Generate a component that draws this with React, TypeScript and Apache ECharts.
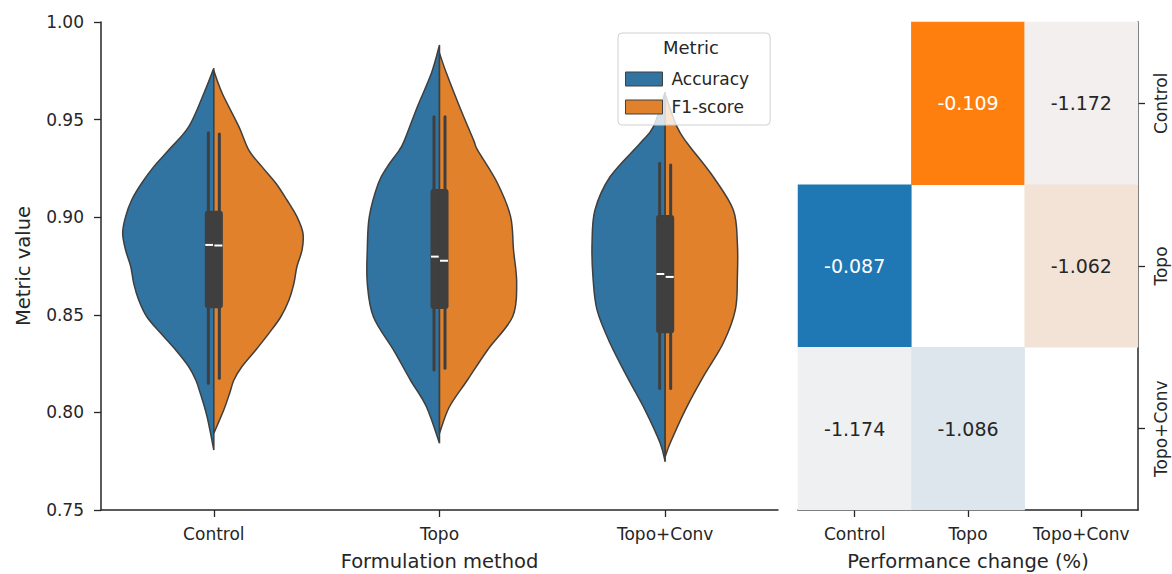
import React, { useEffect, useRef } from "react";
import * as echarts from "echarts";

// ---------------- data ----------------
const categories = ["Control", "Topo", "Topo+Conv"];
const metricNames = ["Accuracy", "F1-score"];
const yTicks = [0.75, 0.8, 0.85, 0.9, 0.95, 1.0];

// violin half profiles: [metric value, half-width as a fraction of the category band]
const controlAccuracyDensity = [
  [0.9763, 0], [0.9635, 0.044], [0.9464, 0.111], [0.9344, 0.2], [0.9259, 0.266],
  [0.9174, 0.32], [0.9088, 0.364], [0.9003, 0.391], [0.8918, 0.404], [0.8832, 0.391],
  [0.8746, 0.368], [0.8661, 0.355], [0.8576, 0.333], [0.849, 0.297], [0.8405, 0.235],
  [0.832, 0.169], [0.8234, 0.111], [0.8166, 0.08], [0.8098, 0.06], [0.7978, 0.03], [0.7807, 0],
];
const controlF1Density = [
  [0.975, 0], [0.9635, 0.037], [0.9464, 0.111], [0.9344, 0.155], [0.9259, 0.213],
  [0.9174, 0.275], [0.9088, 0.324], [0.9003, 0.368], [0.8918, 0.395], [0.8832, 0.391],
  [0.8746, 0.368], [0.8661, 0.355], [0.8576, 0.333], [0.849, 0.297], [0.8405, 0.244],
  [0.832, 0.186], [0.8234, 0.124], [0.8166, 0.089], [0.8098, 0.07], [0.8012, 0.044], [0.7893, 0],
];
const topoAccuracyDensity = [
  [0.9882, 0], [0.9737, 0.036], [0.9566, 0.098], [0.9395, 0.155], [0.9344, 0.178],
  [0.9259, 0.231], [0.9174, 0.271], [0.9003, 0.311], [0.8832, 0.32], [0.8661, 0.32],
  [0.849, 0.293], [0.832, 0.204], [0.8166, 0.129], [0.8029, 0.058], [0.7842, 0],
];
const topoF1Density = [
  [0.984, 0], [0.9737, 0.031], [0.9566, 0.089], [0.9395, 0.151], [0.9344, 0.169],
  [0.9174, 0.257], [0.9003, 0.315], [0.8832, 0.328], [0.8661, 0.342], [0.849, 0.324],
  [0.832, 0.213], [0.8166, 0.124], [0.8029, 0.044], [0.7893, 0],
];
const topoConvAccuracyDensity = [
  [0.9641, 0], [0.9464, 0.052], [0.9379, 0.111], [0.9207, 0.244], [0.9037, 0.311],
  [0.8866, 0.324], [0.8695, 0.32], [0.8525, 0.302], [0.8354, 0.244], [0.8183, 0.169],
  [0.8012, 0.089], [0.7842, 0.022], [0.7747, 0],
];
const topoConvF1Density = [
  [0.963, 0], [0.9464, 0.052], [0.9379, 0.098], [0.9207, 0.213], [0.9037, 0.302],
  [0.8866, 0.32], [0.8695, 0.32], [0.8525, 0.311], [0.8354, 0.257], [0.8183, 0.169],
  [0.8012, 0.089], [0.7842, 0.022], [0.7773, 0],
];

// inner box statistics per category
const accuracyWhiskerLow = [0.8149, 0.8217, 0.8123];
const accuracyQ1 = [0.8533, 0.853, 0.8405];
const accuracyMedian = [0.8858, 0.8798, 0.8709];
const accuracyQ3 = [0.9033, 0.9144, 0.9011];
const accuracyWhiskerHigh = [0.9433, 0.9515, 0.9276];
const f1WhiskerLow = [0.8175, 0.8226, 0.8123];
const f1Q1 = [0.8533, 0.853, 0.8405];
const f1Median = [0.8855, 0.8777, 0.8694];
const f1Q3 = [0.9033, 0.9144, 0.9011];
const f1WhiskerHigh = [0.9426, 0.9515, 0.9267];

// heatmap of performance change (%): [column, row, value]
const heatCategories = ["Control", "Topo", "Topo+Conv"];
const accuracyChange = [
  [0, 1, -0.087],
  [0, 2, -1.174],
  [1, 2, -1.086],
];
const f1Change = [
  [1, 0, -0.109],
  [2, 0, -1.172],
  [2, 1, -1.062],
];

// ---------------- styles ----------------
const FONT = "DejaVu Sans";
const TEXT = "#262626";
const LINE = "#3f3f3f";
const BLUE = "#3274a1";
const ORANGE = "#e1812c";

function makeRender(
  profiles: number[][][],
  side: number,
  low: number[],
  q1: number[],
  med: number[],
  q3: number[],
  high: number[],
  fill: string
) {
  return (params: any, api: any) => {
    const i = params.dataIndex;
    const cx = api.coord([i, 0.9])[0];
    const band = api.size([1, 0])[0];
    const pts = profiles[i].map(([v, w]) => [cx + side * w * band, api.coord([i, v])[1]]);
    const f = (n: number) => n.toFixed(2);
    let d = `M ${f(pts[0][0])} ${f(pts[0][1])}`;
    for (let k = 0; k < pts.length - 1; k++) {
      const p0 = pts[Math.max(k - 1, 0)];
      const p1 = pts[k];
      const p2 = pts[k + 1];
      const p3 = pts[Math.min(k + 2, pts.length - 1)];
      const c1x = p1[0] + (p2[0] - p0[0]) / 6;
      const c1y = p1[1] + (p2[1] - p0[1]) / 6;
      const c2x = p2[0] - (p3[0] - p1[0]) / 6;
      const c2y = p2[1] - (p3[1] - p1[1]) / 6;
      d += ` C ${f(c1x)} ${f(c1y)} ${f(c2x)} ${f(c2y)} ${f(p2[0])} ${f(p2[1])}`;
    }
    d += " Z";
    const y = (v: number) => api.coord([i, v])[1];
    const wx = cx + side * 0.0244 * band;
    const bw = 0.04 * band;
    const boxX = side < 0 ? cx - bw : cx;
    const mx1 = cx + side * 0.5;
    const mx2 = cx + side * (bw - 0.5);
    return {
      type: "group",
      children: [
        {
          type: "path",
          shape: { pathData: d },
          style: { fill, stroke: LINE, lineWidth: 1.5 },
        },
        {
          type: "line",
          shape: { x1: wx, y1: y(high[i]), x2: wx, y2: y(low[i]) },
          style: { stroke: LINE, lineWidth: 3, lineCap: "round" },
        },
        {
          type: "rect",
          shape: {
            x: boxX,
            y: y(q3[i]),
            width: bw,
            height: y(q1[i]) - y(q3[i]),
            r: side < 0 ? [3, 0, 0, 3] : [0, 3, 3, 0],
          },
          style: { fill: LINE },
        },
        {
          type: "line",
          shape: { x1: mx1, y1: y(med[i]), x2: mx2, y2: y(med[i]) },
          style: { stroke: "#ffffff", lineWidth: 2 },
        },
      ],
    };
  };
}

function heatItems(rows: number[][]) {
  return rows.map((r) => ({
    value: r,
    label: { color: r[2] > -0.5 ? "#ffffff" : TEXT },
  }));
}

export default function App() {
  const ref = useRef<HTMLDivElement>(null);
  useEffect(() => {
    if (!ref.current) return;
    const chart = echarts.init(ref.current, null, { renderer: "svg" });
    const accVals = accuracyChange.map((r) => r[2]);
    const f1Vals = f1Change.map((r) => r[2]);
    const axisText = { color: TEXT, fontFamily: FONT, fontSize: 17 };
    const nameText = { color: TEXT, fontFamily: FONT, fontSize: 19.5, lineHeight: 20 };
    const axisLine = { show: true, lineStyle: { color: TEXT, width: 1.5 } };
    const axisTick = { show: true, length: 7, lineStyle: { color: TEXT, width: 1.3 } };
    const option: any = {
      animation: false,
      backgroundColor: "#ffffff",
      grid: [
        { left: 101, right: 394, top: 22, bottom: 64, outerBoundsMode: "none", containLabel: false },
        { left: 798, right: 34, top: 22, bottom: 64, outerBoundsMode: "none", containLabel: false },
      ],
      xAxis: [
        {
          type: "category",
          gridIndex: 0,
          data: categories,
          boundaryGap: true,
          axisLine,
          axisTick: { ...axisTick, alignWithLabel: true, interval: 0 },
          axisLabel: { ...axisText, margin: 15, interval: 0 },
          splitLine: { show: false },
          name: "Formulation method",
          nameLocation: "middle",
          nameGap: 41,
          nameTextStyle: nameText,
        },
        {
          type: "category",
          gridIndex: 1,
          data: heatCategories,
          axisLine,
          axisTick: { ...axisTick, alignWithLabel: true, interval: 0 },
          axisLabel: { ...axisText, margin: 15, interval: 0 },
          splitArea: { show: false },
          name: "Performance change (%)",
          nameLocation: "middle",
          nameGap: 41,
          nameTextStyle: nameText,
        },
      ],
      yAxis: [
        {
          type: "value",
          gridIndex: 0,
          min: yTicks[0],
          max: yTicks[yTicks.length - 1],
          interval: 0.05,
          axisLine,
          axisTick,
          splitLine: { show: false },
          axisLabel: { ...axisText, margin: 17, formatter: (v: number) => v.toFixed(2) },
          name: "Metric value",
          nameLocation: "middle",
          nameGap: 68,
          nameTextStyle: nameText,
        },
        {
          type: "category",
          gridIndex: 1,
          data: heatCategories,
          inverse: true,
          position: "right",
          axisLine,
          axisTick: { ...axisTick, alignWithLabel: true, interval: 0 },
          axisLabel: { ...axisText, margin: 14, rotate: 90, interval: 0 },
          splitArea: { show: false },
        },
      ],
      visualMap: [
        {
          show: false,
          seriesIndex: 2,
          dimension: 2,
          min: Math.min(...accVals),
          max: Math.max(...accVals),
          inRange: { color: ["#eff0f2", "#1f77b4"] },
        },
        {
          show: false,
          seriesIndex: 3,
          dimension: 2,
          min: Math.min(...f1Vals),
          max: Math.max(...f1Vals),
          inRange: { color: ["#f2efee", "#ff7f0e"] },
        },
      ],
      legend: {
        orient: "vertical",
        left: 618,
        top: 33,
        padding: [37, 21, 9, 7],
        itemGap: 10,
        itemWidth: 37,
        itemHeight: 14,
        backgroundColor: "rgba(255,255,255,0.8)",
        borderColor: "#d0d0d0",
        borderWidth: 1,
        borderRadius: 4,
        textStyle: { color: TEXT, fontFamily: FONT, fontSize: 17, lineHeight: 18, padding: [0, 0, 0, 4] },
        data: [
          { name: metricNames[0], icon: "rect", itemStyle: { color: BLUE, borderColor: LINE, borderWidth: 1 } },
          { name: metricNames[1], icon: "rect", itemStyle: { color: ORANGE, borderColor: LINE, borderWidth: 1 } },
        ],
      },
      graphic: [
        {
          type: "text",
          left: 663,
          top: 38,
          z: 100,
          style: { text: "Metric", fill: TEXT, font: `18px '${FONT}'` },
        },
      ],
      series: [
        {
          type: "custom",
          name: metricNames[0],
          xAxisIndex: 0,
          yAxisIndex: 0,
          itemStyle: { color: BLUE, borderColor: LINE },
          data: categories.map((c, i) => [i, accuracyMedian[i]]),
          encode: { x: 0, y: 1 },
          renderItem: makeRender(
            [controlAccuracyDensity, topoAccuracyDensity, topoConvAccuracyDensity],
            -1,
            accuracyWhiskerLow,
            accuracyQ1,
            accuracyMedian,
            accuracyQ3,
            accuracyWhiskerHigh,
            BLUE
          ),
        },
        {
          type: "custom",
          name: metricNames[1],
          xAxisIndex: 0,
          yAxisIndex: 0,
          itemStyle: { color: ORANGE, borderColor: LINE },
          data: categories.map((c, i) => [i, f1Median[i]]),
          encode: { x: 0, y: 1 },
          renderItem: makeRender(
            [controlF1Density, topoF1Density, topoConvF1Density],
            1,
            f1WhiskerLow,
            f1Q1,
            f1Median,
            f1Q3,
            f1WhiskerHigh,
            ORANGE
          ),
        },
        {
          type: "heatmap",
          name: "accuracyChange",
          xAxisIndex: 1,
          yAxisIndex: 1,
          data: heatItems(accuracyChange),
          label: {
            show: true,
            fontFamily: FONT,
            fontSize: 19,
            formatter: (p: any) => p.value[2].toFixed(3),
          },
        },
        {
          type: "heatmap",
          name: "f1Change",
          xAxisIndex: 1,
          yAxisIndex: 1,
          data: heatItems(f1Change),
          label: {
            show: true,
            fontFamily: FONT,
            fontSize: 19,
            formatter: (p: any) => p.value[2].toFixed(3),
          },
        },
      ],
    };
    chart.setOption(option);
    return () => chart.dispose();
  }, []);
  return (
    <div
      ref={ref}
      style={{ position: "fixed", left: 0, top: 0, width: 1172, height: 574, background: "#fff" }}
    />
  );
}
